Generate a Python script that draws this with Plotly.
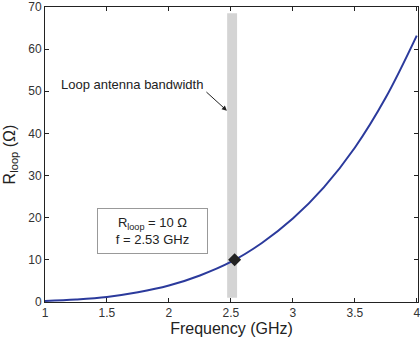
import plotly.graph_objects as go

# Data
freq_ghz = [1.0, 1.25, 1.5, 1.75, 2.0, 2.25, 2.5, 2.75, 3.0, 3.25, 3.5, 3.75, 4.0]
r_loop = [0.24, 0.6, 1.2, 2.3, 3.9, 6.3, 9.5, 14.0, 19.8, 27.2, 36.6, 48.5, 63.2]
marker_f = [2.53]
marker_r = [10]
band_f = [2.47, 2.55]
band_r = [1.0, 68.5]
x_ticks = [1, 1.5, 2, 2.5, 3, 3.5, 4]
y_ticks = [0, 10, 20, 30, 40, 50, 60, 70]

FONT = "Liberation Sans, Arial, Helvetica, sans-serif"

fig = go.Figure()
fig.add_shape(type="rect", xref="x", yref="y",
              x0=band_f[0], x1=band_f[1], y0=band_r[0], y1=band_r[1],
              fillcolor="#d4d4d4", line=dict(width=0), layer="below")
fig.add_trace(go.Scatter(x=freq_ghz, y=r_loop, mode="lines",
                         line=dict(color="#2b3a9c", width=2, shape="spline"),
                         showlegend=False, hoverinfo="skip"))
fig.add_trace(go.Scatter(x=marker_f, y=marker_r, mode="markers",
                         marker=dict(symbol="diamond", size=10, color="#222222"),
                         showlegend=False))

fig.add_annotation(x=1.70, y=51.5, xref="x", yref="y", text="Loop antenna bandwidth",
                   showarrow=False, font=dict(size=13, color="#222", family=FONT))
fig.add_annotation(x=2.468, y=45.4, xref="x", yref="y", text="",
                   showarrow=True, ax=-22, ay=-20, arrowhead=2, arrowsize=1,
                   arrowwidth=1, arrowcolor="#222")
fig.add_annotation(x=1.868, y=16.8, xref="x", yref="y",
                   text="R<sub>loop</sub> = 10 Ω<br>f = 2.53 GHz",
                   showarrow=False, bgcolor="white", bordercolor="#999999",
                   borderwidth=1, width=107, height=42, align="center",
                   font=dict(size=13, color="#222", family=FONT))

axis_common = dict(showline=True, linecolor="#222", linewidth=1, mirror="ticks",
                   ticks="inside", ticklen=4, tickcolor="#222", showgrid=False,
                   zeroline=False, ticklabeloverflow="allow",
                   tickfont=dict(size=12, color="#333", family=FONT))
fig.update_xaxes(range=[1, 4.01], tickvals=x_ticks, ticktext=[f"{v:g}" for v in x_ticks],
                 title=dict(text="Frequency (GHz)", font=dict(size=16, color="#222", family=FONT),
                            standoff=0), **axis_common)
fig.update_yaxes(range=[0, 70], tickvals=y_ticks,
                 title=dict(text="R<sub>loop</sub> (Ω)", font=dict(size=16, color="#222", family=FONT),
                            standoff=8), **axis_common)
fig.update_layout(width=420, height=340, margin=dict(l=45, r=0, t=6, b=38),
                  plot_bgcolor="white", paper_bgcolor="white")
fig.write_html("out.html")
